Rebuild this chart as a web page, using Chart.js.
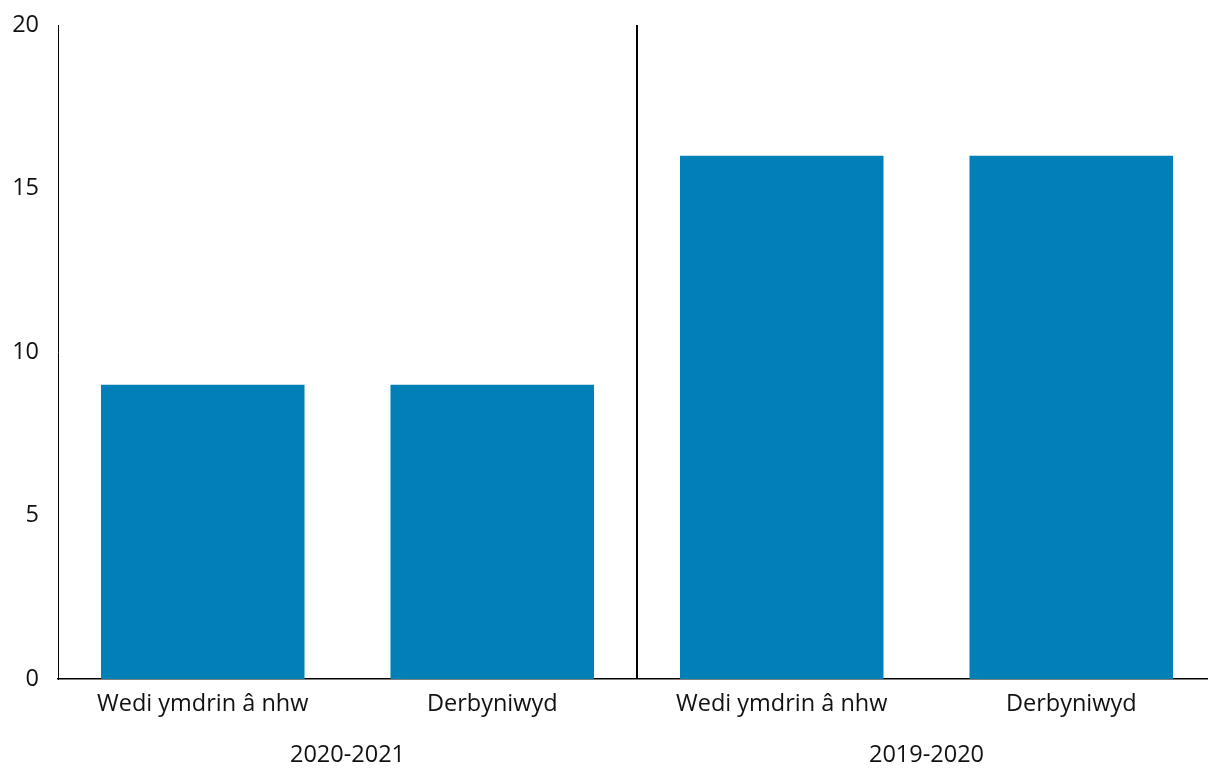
<!DOCTYPE html>
<html>
<head>
<meta charset="utf-8">
<script src="https://cdn.jsdelivr.net/npm/chart.js@4"></script>
<style>
html,body{margin:0;padding:0;background:#fff;overflow:hidden;}
#wrap{width:1216px;height:769px;position:relative;}
</style>
</head>
<body>
<div id="wrap"><canvas id="c"></canvas></div>
<script>
const categories = ["Wedi ymdrin â nhw", "Derbyniwyd", "Wedi ymdrin â nhw", "Derbyniwyd"];
const groups = ["2020-2021", "2019-2020"];
const values = [9, 9, 16, 16];
const yTicks = [0, 5, 10, 15, 20];

const FONT = "'Open Sans', 'Noto Sans', sans-serif";

new Chart(document.getElementById('c'), {
  type: 'bar',
  data: {
    labels: categories,
    datasets: [{
      data: values,
      backgroundColor: '#0080B6',
      borderWidth: 0,
      categoryPercentage: 1,
      barPercentage: 0.703
    }]
  },
  options: {
    responsive: true,
    maintainAspectRatio: false,
    animation: false,
    layout: { padding: { top: 25, left: 0, right: 0, bottom: 0 } },
    plugins: { legend: { display: false }, tooltip: { enabled: false } },
    scales: {
      x: {
        type: 'category',
        offset: true,
        grid: {
          display: true,
          offset: true,
          drawTicks: false,
          color: (ctx) => ctx.index === 2 ? '#000' : 'rgba(0,0,0,0)',
          lineWidth: 2
        },
        border: { display: true, color: '#000', width: 1.5 },
        ticks: { color: '#111', font: { family: FONT, size: 23.5 }, padding: 11, maxRotation: 0, autoSkip: false },
        afterFit: (s) => { s.height = 45; s.paddingLeft = 0; s.paddingRight = 0; }
      },
      x2: {
        type: 'category',
        labels: groups,
        position: 'bottom',
        offset: true,
        grid: { display: false, drawTicks: false },
        border: { display: false },
        ticks: { color: '#111', font: { family: FONT, size: 23.5 }, padding: 17, maxRotation: 0 },
        afterFit: (s) => { s.height = 45; s.paddingLeft = 0; s.paddingRight = 0; }
      },
      y: {
        min: 0,
        max: 20,
        afterBuildTicks: (axis) => { axis.ticks = yTicks.map(v => ({ value: v })); },
        grid: { display: false, drawTicks: false },
        border: { display: true, color: '#000', width: 1 },
        ticks: { color: '#111', font: { family: FONT, size: 23.5 }, padding: 19 },
        afterFit: (s) => { s.width = 58; s.paddingTop = 0; s.paddingBottom = 0; }
      }
    }
  }
});
</script>
</body>
</html>
